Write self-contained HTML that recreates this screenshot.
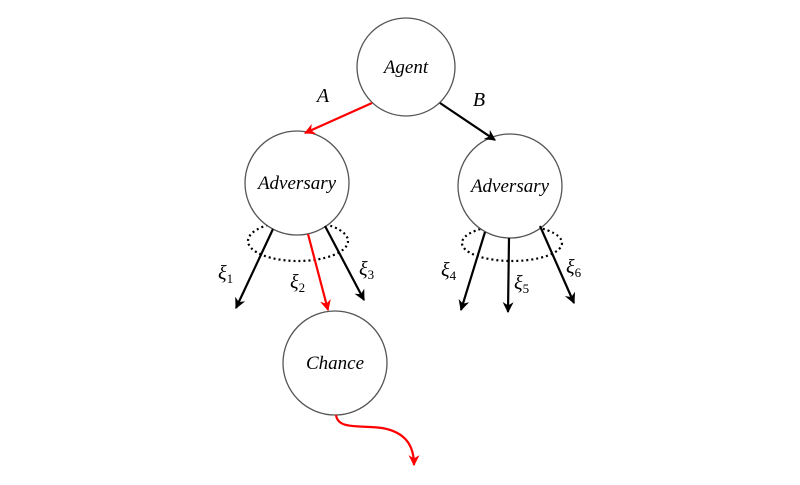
<!DOCTYPE html>
<html><head><style>body{margin:0;background:#fff}svg{display:block}</style></head><body>
<svg width="800" height="485" viewBox="0 0 800 485" xmlns="http://www.w3.org/2000/svg" font-family="Liberation Serif, serif" font-style="italic">
<defs>
<marker id="ab" viewBox="0 0 10 10" refX="9" refY="5" markerWidth="5" markerHeight="5" orient="auto"><path d="M0,0 L10,5 L0,10 L3,5z" fill="#000"/></marker>
<marker id="ar" viewBox="0 0 10 10" refX="9" refY="5" markerWidth="5" markerHeight="5" orient="auto"><path d="M0,0 L10,5 L0,10 L3,5z" fill="#f00"/></marker>
</defs>
<g fill="none" stroke="#000" stroke-width="2.2" stroke-dasharray="2,3">
<ellipse cx="298" cy="241" rx="50" ry="20"/>
<ellipse cx="512" cy="243" rx="50" ry="18"/>
</g>
<g fill="#fff" stroke="#555" stroke-width="1.3">
<circle cx="406" cy="67" r="49"/>
<circle cx="297" cy="183" r="52"/>
<circle cx="510" cy="186" r="52"/>
<circle cx="335" cy="363" r="52"/>
</g>
<g stroke-width="2.2" fill="none">
<line x1="372" y1="103" x2="305" y2="133" stroke="#f00" marker-end="url(#ar)"/>
<line x1="440" y1="103" x2="495" y2="140" stroke="#000" marker-end="url(#ab)"/>
<line x1="273" y1="229" x2="236" y2="308" stroke="#000" marker-end="url(#ab)"/>
<line x1="308" y1="234" x2="328" y2="310" stroke="#f00" marker-end="url(#ar)"/>
<line x1="325" y1="226" x2="364" y2="300" stroke="#000" marker-end="url(#ab)"/>
<line x1="485" y1="232" x2="461" y2="310" stroke="#000" marker-end="url(#ab)"/>
<line x1="509" y1="238" x2="508" y2="312" stroke="#000" marker-end="url(#ab)"/>
<line x1="540" y1="226" x2="574" y2="303" stroke="#000" marker-end="url(#ab)"/>
<path d="M336,415 C338,430 360,425 382,428 C405,432 414,445 414,465" stroke="#f00" marker-end="url(#ar)"/>
</g>
<g font-size="19" text-anchor="middle" fill="#000">
<text x="406" y="73">Agent</text>
<text x="297" y="189">Adversary</text>
<text x="510" y="192">Adversary</text>
<text x="335" y="369">Chance</text>
<text x="323" y="102" font-size="20">A</text>
<text x="479" y="106" font-size="20">B</text>
</g>
<g font-size="20" fill="#000">
<text x="218" y="279">ξ<tspan font-size="13" font-style="normal" dy="4">1</tspan></text>
<text x="290" y="288">ξ<tspan font-size="13" font-style="normal" dy="4">2</tspan></text>
<text x="359" y="275">ξ<tspan font-size="13" font-style="normal" dy="4">3</tspan></text>
<text x="441" y="276">ξ<tspan font-size="13" font-style="normal" dy="4">4</tspan></text>
<text x="514" y="289">ξ<tspan font-size="13" font-style="normal" dy="4">5</tspan></text>
<text x="566" y="273">ξ<tspan font-size="13" font-style="normal" dy="4">6</tspan></text>
</g>
</svg>
</body></html>
